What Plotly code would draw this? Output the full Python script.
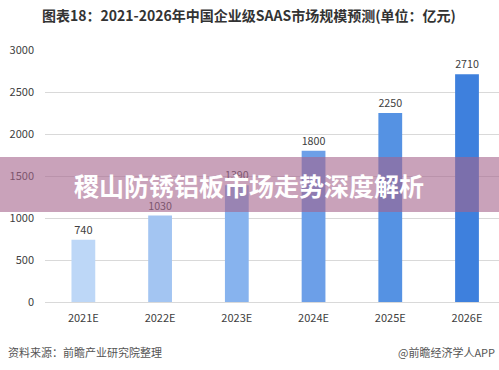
import plotly.graph_objects as go

categories = ["2021E", "2022E", "2023E", "2024E", "2025E", "2026E"]
values = [740, 1030, 1390, 1800, 2250, 2710]
bar_colors = ["#BDD7F7", "#A3C5F2", "#87B3EE", "#6C9FE8", "#5592E3", "#3E80DD"]
y_ticks = [0, 500, 1000, 1500, 2000, 2500, 3000]

title_text = "图表18：2021-2026年中国企业级SAAS市场规模预测(单位：亿元)"
banner_text = "稷山防锈铝板市场走势深度解析"
source_text = "资料来源：前瞻产业研究院整理"
brand_text = "@前瞻经济学人APP"

FONT = "Noto Sans CJK SC, Noto Sans, sans-serif"

fig = go.Figure()
fig.add_trace(go.Bar(
    x=categories, y=values,
    marker=dict(color=bar_colors, line=dict(width=0)),
    text=[str(v) for v in values],
    textposition="outside",
    textfont=dict(size=11, color="#404040", family=FONT),
    cliponaxis=False,
))

fig.update_layout(
    width=499, height=370,
    margin=dict(l=45, r=0, t=50, b=68),
    paper_bgcolor="white", plot_bgcolor="white",
    bargap=0.69,
    showlegend=False,
    font=dict(family=FONT),
    xaxis=dict(
        type="category", range=[-0.5, 5.417],
        showgrid=False, showline=False, ticks="",
        tickfont=dict(size=11, color="#404040", family=FONT),
        ticklabelstandoff=8,
    ),
    yaxis=dict(
        range=[0, 3000], tickvals=y_ticks,
        showgrid=True, gridcolor="#D9D9D9", gridwidth=1,
        zeroline=True, zerolinecolor="#D9D9D9", zerolinewidth=1,
        showline=False, ticks="",
        tickfont=dict(size=11, color="#404040", family=FONT),
        ticklabelstandoff=10,
    ),
)

# banner overlay
fig.add_shape(type="rect", xref="paper", yref="paper",
              x0=-45/454, x1=1, y0=(370-68-212)/252, y1=(370-68-157)/252,
              fillcolor="rgba(165,100,140,0.6)", line=dict(width=0), layer="above")

fig.add_annotation(text="<b>" + banner_text + "</b>", xref="paper", yref="paper",
                   x=(249-45)/454, y=(370-68-185)/252, showarrow=False,
                   font=dict(size=25, color="white", family=FONT),
                   xanchor="center", yanchor="middle")

fig.add_annotation(text="<b>" + title_text + "</b>", xref="paper", yref="paper",
                   x=(249-45)/454, y=(370-68-15)/252, showarrow=False,
                   font=dict(size=14, color="#333333", family=FONT),
                   xanchor="center", yanchor="middle")

fig.add_annotation(text=source_text, xref="paper", yref="paper",
                   x=(6-45)/454, y=(370-68-352)/252, showarrow=False,
                   font=dict(size=11, color="#555555", family=FONT),
                   xanchor="left", yanchor="middle")

fig.add_annotation(text=brand_text, xref="paper", yref="paper",
                   x=(497-45)/454, y=(370-68-352)/252, showarrow=False,
                   font=dict(size=11, color="#555555", family=FONT),
                   xanchor="right", yanchor="middle")

fig.write_html("out.html")
